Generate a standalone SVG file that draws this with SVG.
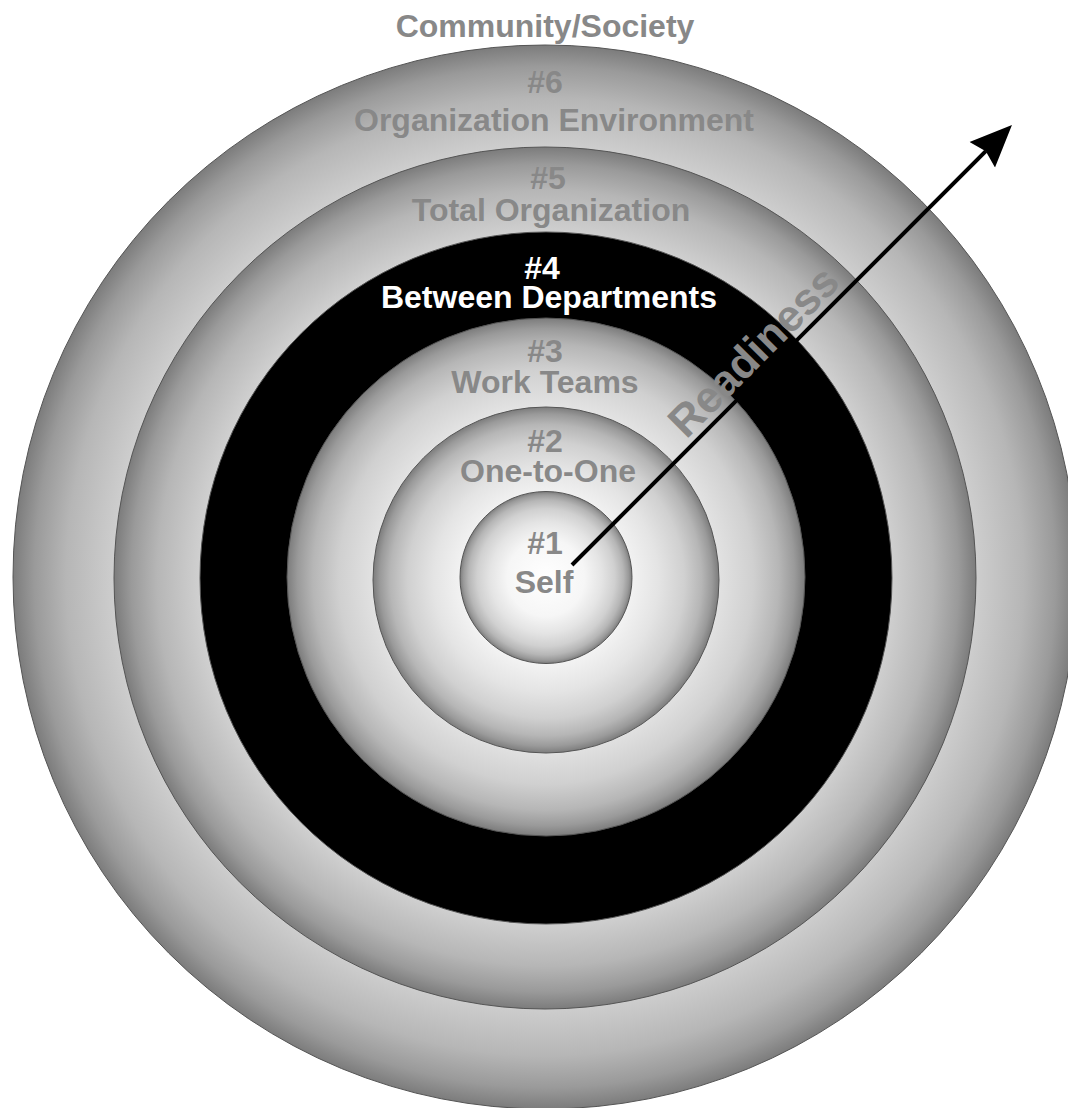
<svg xmlns="http://www.w3.org/2000/svg" width="1068" height="1108" viewBox="0 0 1068 1108">
  <style>
    .ring { stroke: #555; stroke-width: 1; }
    .lbl { font-family: "Liberation Sans", Arial, Helvetica, sans-serif; font-weight: bold; font-size: 32px; fill: #888888; text-anchor: middle; }
    .wht { fill: #ffffff; }
    .conn { stroke: #000; stroke-width: 4; fill: none; }
  </style>
  <defs>
    <radialGradient id="shade" cx="0.5" cy="0.5" r="0.5">
      <stop offset="0" stop-color="#ffffff"/>
      <stop offset="0.45" stop-color="#f6f6f6"/>
      <stop offset="0.65" stop-color="#e4e4e4"/>
      <stop offset="0.8" stop-color="#d0d0d0"/>
      <stop offset="0.9" stop-color="#b6b6b6"/>
      <stop offset="0.96" stop-color="#9a9a9a"/>
      <stop offset="1" stop-color="#7c7c7c"/>
    </radialGradient>
    <marker id="arrow" markerUnits="userSpaceOnUse" markerWidth="50" markerHeight="50" refX="5" refY="18" orient="auto" viewBox="0 0 50 36">
      <path d="M42,18 L0,0 L5,18 L0,36 Z" fill="#000"/>
    </marker>
  </defs>

  <text class="lbl" x="545" y="37">Community/Society</text>

  <g id="node6">
    <circle class="ring" cx="545" cy="577" r="532" fill="url(#shade)"/>
    <text class="lbl" x="545" y="93">#6</text>
    <text class="lbl" x="554" y="131">Organization Environment</text>
  </g>
  <g id="node5">
    <circle class="ring" cx="545" cy="578" r="431" fill="url(#shade)"/>
    <text class="lbl" x="548" y="189">#5</text>
    <text class="lbl" x="551" y="221">Total Organization</text>
  </g>
  <g id="node4">
    <circle class="ring" cx="546" cy="578" r="346" fill="#000"/>
    <text class="lbl wht" x="542" y="279">#4</text>
    <text class="lbl wht" x="549" y="308">Between Departments</text>
  </g>
  <g id="node3">
    <circle class="ring" cx="546" cy="577" r="259" fill="url(#shade)"/>
    <text class="lbl" x="545" y="362">#3</text>
    <text class="lbl" x="545" y="393">Work Teams</text>
  </g>
  <g id="node2">
    <circle class="ring" cx="546" cy="580" r="173" fill="url(#shade)"/>
    <text class="lbl" x="545" y="452">#2</text>
    <text class="lbl" x="548" y="482">One-to-One</text>
  </g>
  <g id="node1">
    <circle class="ring" cx="546" cy="577.5" r="86" fill="url(#shade)"/>
    <text class="lbl" x="545" y="554">#1</text>
    <text class="lbl" x="544" y="593">Self</text>
  </g>

  <g id="connectors">
    <line class="conn" x1="572" y1="565" x2="985.8" y2="151.2" marker-end="url(#arrow)"/>
    <text class="lbl" transform="translate(764,362) rotate(-45)" style="font-size:44px">Readiness</text>
  </g>
</svg>
